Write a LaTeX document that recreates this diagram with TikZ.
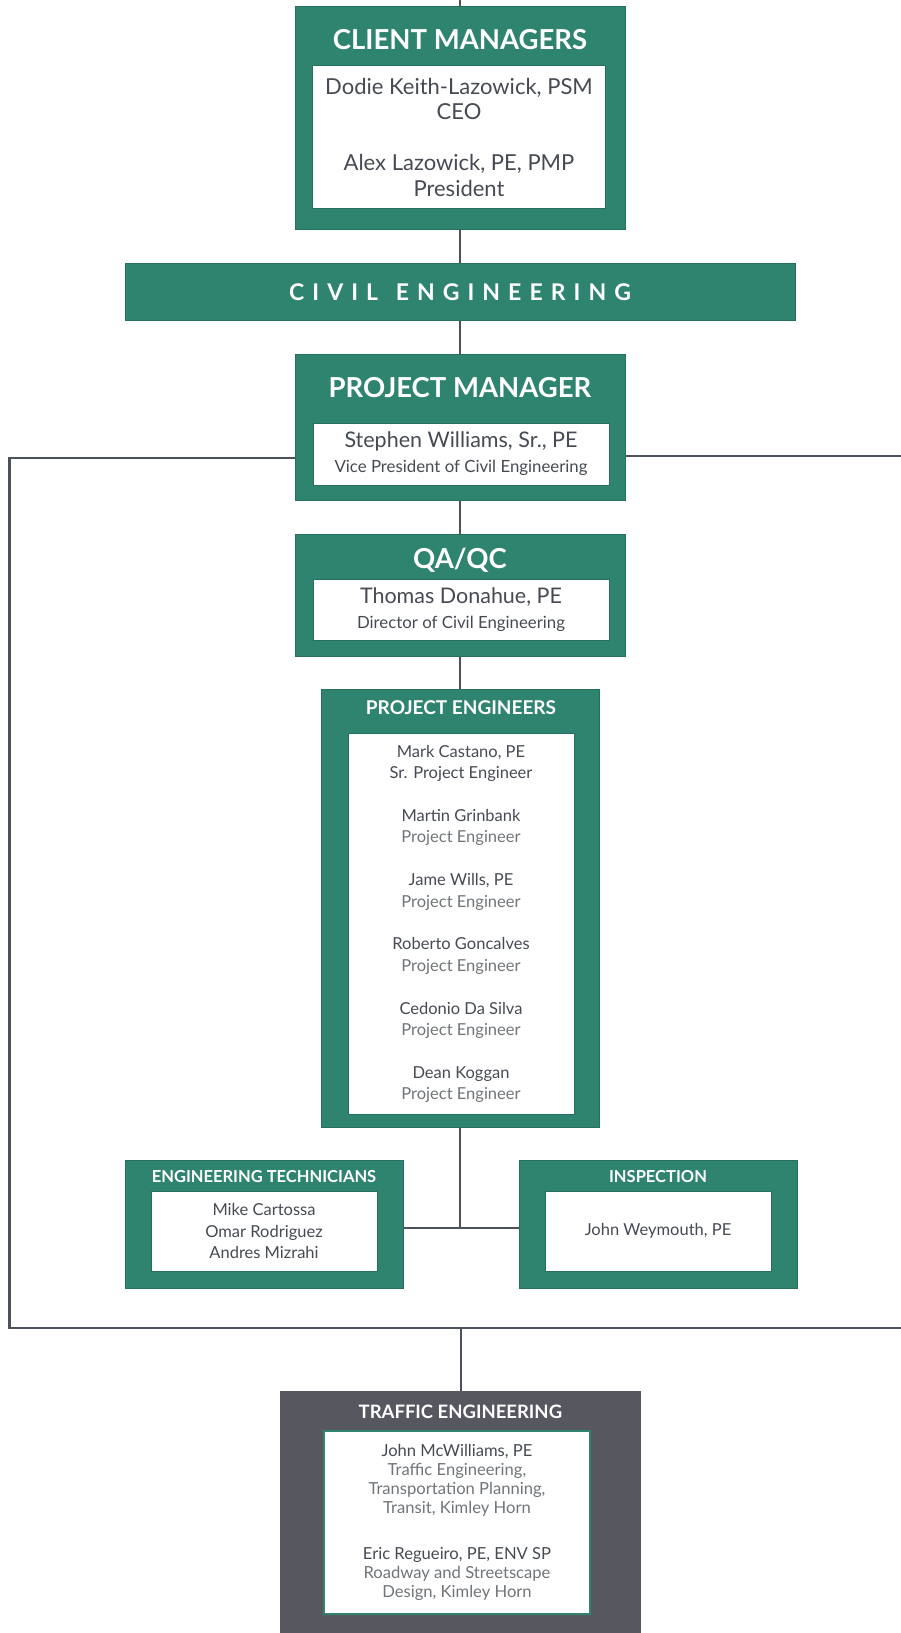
\documentclass[tikz,border=0pt]{standalone}
\usepackage{fontspec}
\setmainfont{Lato}
\usetikzlibrary{positioning}

\definecolor{cgreen}{HTML}{2F8470}
\definecolor{cgreenedge}{HTML}{286F5F}
\definecolor{tgray}{HTML}{56575F}
\definecolor{lgray}{HTML}{4B525A}
\definecolor{ngray}{HTML}{464B53}
\definecolor{rgray}{HTML}{707579}

\newcommand{\role}[1]{{\color{rgray}#1}}

\begin{document}
\begin{tikzpicture}[x=1pt,y=-1pt]
\tikzset{greenbox/.style={fill=cgreen,draw=cgreenedge,line width=1pt,inner sep=0pt},
  whitebox/.style={fill=white,draw=cgreenedge,line width=1pt,inner sep=0pt,align=center,text=ngray},
  boxhead/.style={text=white,inner sep=0pt,anchor=base},
  link/.style={draw=lgray,line width=2.7pt}}
\useasboundingbox[fill=white] (0,0) rectangle (901,1633);

% client managers
\node[greenbox,minimum width=330pt,minimum height=223pt] (client) at (460,118) {};
\node[boxhead,font=\fontsize{27.5}{30}\selectfont\bfseries] (clienthd) at (460,49) {CLIENT MANAGERS};
\node[whitebox,minimum width=293pt,minimum height=143pt,font=\fontsize{22}{25.5}\selectfont] (clientnames) at (459,137)
  {Dodie Keith-Lazowick, PSM\\CEO\\[25.5pt]Alex Lazowick, PE, PMP\\President};

% civil engineering banner
\node[greenbox,minimum width=670pt,minimum height=57pt,text=white,
  font=\fontsize{23}{25}\selectfont\bfseries\addfontfeature{LetterSpace=35}] (civil) at (460,292) {CIVIL\hspace{4pt} ENGINEERING};

% project manager
\node[greenbox,minimum width=330pt,minimum height=146pt] (pm) at (460,427) {};
\node[boxhead,font=\fontsize{27.5}{30}\selectfont\bfseries] (pmhd) at (460,397.5) {PROJECT MANAGER};
\node[whitebox,minimum width=296pt,minimum height=62pt,font=\fontsize{21.5}{25}\selectfont] (pmname) at (461,454)
  {Stephen Williams, Sr., PE\\{\fontsize{16.8}{18}\selectfont Vice President of Civil Engineering}};

% qa/qc
\node[greenbox,minimum width=330pt,minimum height=122pt] (qa) at (460,595) {};
\node[boxhead,font=\fontsize{27.5}{30}\selectfont\bfseries] (qahd) at (460,568) {QA/QC};
\node[whitebox,minimum width=296pt,minimum height=61pt,font=\fontsize{21.5}{25}\selectfont] (qaname) at (461,610)
  {Thomas Donahue, PE\\{\fontsize{16.8}{18}\selectfont Director of Civil Engineering}};

% project engineers
\node[greenbox,minimum width=278pt,minimum height=438pt] (pe) at (460,908) {};
\node[boxhead,font=\fontsize{19}{20}\selectfont\bfseries] (pehd) at (461,714.5) {PROJECT ENGINEERS};
\node[whitebox,minimum width=226pt,minimum height=381pt,font=\fontsize{16.5}{21.4}\selectfont] (penames) at (461,924)
  {Mark Castano, PE\\Sr. Project Engineer\\[21.4pt]
   Martin Grinbank\\\role{Project Engineer}\\[21.4pt]
   Jame Wills, PE\\\role{Project Engineer}\\[21.4pt]
   Roberto Goncalves\\\role{Project Engineer}\\[21.4pt]
   Cedonio Da Silva\\\role{Project Engineer}\\[21.4pt]
   Dean Koggan\\\role{Project Engineer}};

% technicians and inspection
\node[greenbox,minimum width=278pt,minimum height=128pt] (tech) at (264,1224) {};
\node[boxhead,font=\fontsize{16.5}{18}\selectfont\bfseries] (techhd) at (264,1182) {ENGINEERING TECHNICIANS};
\node[whitebox,minimum width=226pt,minimum height=80pt,font=\fontsize{16.5}{21.5}\selectfont] (technames) at (264,1231)
  {Mike Cartossa\\Omar Rodriguez\\Andres Mizrahi};

\node[greenbox,minimum width=278pt,minimum height=128pt] (insp) at (658,1224) {};
\node[boxhead,font=\fontsize{16.5}{18}\selectfont\bfseries] (insphd) at (658,1182) {INSPECTION};
\node[whitebox,minimum width=226pt,minimum height=80pt,font=\fontsize{16.5}{21.5}\selectfont] (inspname) at (658,1231)
  {John Weymouth, PE};

% traffic engineering
\node[fill=tgray,inner sep=0pt,minimum width=361pt,minimum height=242pt] (traffic) at (460.4,1512) {};
\node[boxhead,font=\fontsize{18.5}{19}\selectfont\bfseries] (traffichd) at (460.4,1418) {TRAFFIC ENGINEERING};
\node[whitebox,draw=cgreen,line width=2pt,minimum width=266pt,minimum height=183pt,font=\fontsize{16.6}{19}\selectfont] (trafficnames) at (457,1522.5)
  {John McWilliams, PE\\\role{Traffic Engineering,}\\\role{Transportation Planning,}\\\role{Transit, Kimley Horn}\\[27pt]
   Eric Regueiro, PE, ENV SP\\\role{Roadway and Streetscape}\\\role{Design, Kimley Horn}};

% connectors
\coordinate (topend) at (460,0);
\coordinate (split) at (460,1228);
\coordinate (pmleft) at (9.4,458);
\coordinate (pmright) at (901,456);
\coordinate (bottomright) at (901,1328);
\coordinate (trafftop) at (461,1328);

\draw[link] (topend) -- (client.north);
\draw[link] (client.south) -- (civil.north);
\draw[link] (civil.south) -- (pm.north);
\draw[link] (pm.south) -- (qa.north);
\draw[link] (qa.south) -- (pe.north);
\draw[link] (pe.south) -- (split);
\draw[link] (tech.east |- split) -- (insp.west |- split);
\draw[link] (pmleft -| pm.west) -- (pmleft) |- (bottomright);
\draw[link] (pm.east |- pmright) -- (pmright);
\draw[link] (trafftop) -- (trafftop |- traffic.north);

\end{tikzpicture}
\end{document}
